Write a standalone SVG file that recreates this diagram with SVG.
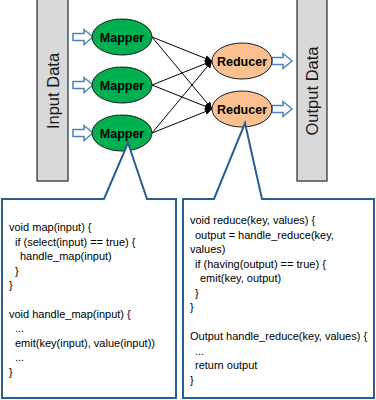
<svg xmlns="http://www.w3.org/2000/svg" width="376" height="400" viewBox="0 0 376 400">
<style>
.data{fill:#d9d9d9;stroke:#262626;stroke-width:1.2}
.map{fill:#00b050;stroke:#1a1a1a;stroke-width:1}
.red{fill:#fac090;stroke:#1a1a1a;stroke-width:1}
.lbl{font-family:"Liberation Sans",Arial,sans-serif;font-weight:bold;font-size:12.5px;fill:#000;text-anchor:middle}
.big{font-family:"Liberation Sans",Arial,sans-serif;font-size:16.5px;fill:#1a1a1a;text-anchor:middle}
.barrow{fill:#fff;stroke:#4f81bd;stroke-width:1.5}
.conn{stroke:#000;stroke-width:1;fill:none;marker-end:url(#ah)}
.box{fill:#fff;stroke:#2c5d8f;stroke-width:2}
.code{font-family:"Liberation Sans",Arial,sans-serif;font-size:11px;fill:#000}
</style>
<defs>
<marker id="ah" viewBox="0 0 10 10" refX="10" refY="5" markerWidth="7" markerHeight="7" markerUnits="userSpaceOnUse" orient="auto">
<path d="M0,0 L10,5 L0,10 z" fill="#000"/>
</marker>
<path id="ba" d="M0,-3.5 H11 V-7.5 L20,0 L11,7.5 V3.5 H0 Z"/>
</defs>
<g id="input-data">
<rect class="data" x="37" y="-2" width="31" height="183"/>
<text class="big" transform="translate(58.5,91) rotate(-90)">Input Data</text>
</g>
<g id="output-data">
<rect class="data" x="297" y="-2" width="30" height="183"/>
<text class="big" transform="translate(317.5,91) rotate(-90)">Output Data</text>
</g>
<g id="in-arrows">
<use href="#ba" class="barrow" x="73" y="37"/>
<use href="#ba" class="barrow" x="73" y="85"/>
<use href="#ba" class="barrow" x="73" y="133"/>
</g>
<g id="out-arrows">
<use href="#ba" class="barrow" x="272" y="61"/>
<use href="#ba" class="barrow" x="272" y="109"/>
</g>
<g id="connectors">
<line class="conn" x1="152" y1="37" x2="212" y2="61"/>
<line class="conn" x1="152" y1="37" x2="212" y2="109"/>
<line class="conn" x1="152" y1="85" x2="212" y2="61"/>
<line class="conn" x1="152" y1="85" x2="212" y2="109"/>
<line class="conn" x1="152" y1="133" x2="212" y2="61"/>
<line class="conn" x1="152" y1="133" x2="212" y2="109"/>
</g>
<g id="mapper1"><ellipse class="map" cx="122" cy="37" rx="30" ry="18"/><text class="lbl" x="122" y="41.5">Mapper</text></g>
<g id="mapper2"><ellipse class="map" cx="122" cy="85" rx="30" ry="18"/><text class="lbl" x="122" y="89.5">Mapper</text></g>
<g id="mapper3"><ellipse class="map" cx="122" cy="133" rx="30" ry="18"/><text class="lbl" x="122" y="137.5">Mapper</text></g>
<g id="reducer1"><ellipse class="red" cx="242" cy="61" rx="30" ry="18"/><text class="lbl" x="242" y="65.5">Reducer</text></g>
<g id="reducer2"><ellipse class="red" cx="242" cy="109" rx="30" ry="18"/><text class="lbl" x="242" y="113.5">Reducer</text></g>
<g id="map-callout">
<path class="box" d="M2,199 H104 L128,143 L147,199 H176 V398 H2 Z"/>
<text class="code">
<tspan x="9" y="231">void map(input) {</tspan>
<tspan x="15" y="245.5">if (select(input) == true) {</tspan>
<tspan x="20" y="260">handle_map(input)</tspan>
<tspan x="15" y="274.5">}</tspan>
<tspan x="9" y="289">}</tspan>
<tspan x="9" y="318">void handle_map(input) {</tspan>
<tspan x="15" y="332">...</tspan>
<tspan x="15" y="346.5">emit(key(input), value(input))</tspan>
<tspan x="15" y="361">...</tspan>
<tspan x="9" y="375.5">}</tspan>
</text>
</g>
<g id="reduce-callout">
<path class="box" d="M183,199 H214 L245,123 L262,199 H374 V398 H183 Z"/>
<text class="code">
<tspan x="190" y="224">void reduce(key, values) {</tspan>
<tspan x="195" y="238.5">output = handle_reduce(key,</tspan>
<tspan x="190" y="253">values)</tspan>
<tspan x="195" y="267.5">if (having(output) == true) {</tspan>
<tspan x="200" y="282">emit(key, output)</tspan>
<tspan x="195" y="296.5">}</tspan>
<tspan x="190" y="311">}</tspan>
<tspan x="190" y="340">Output handle_reduce(key, values) {</tspan>
<tspan x="195" y="354.5">...</tspan>
<tspan x="195" y="369">return output</tspan>
<tspan x="190" y="383.5">}</tspan>
</text>
</g>
</svg>
